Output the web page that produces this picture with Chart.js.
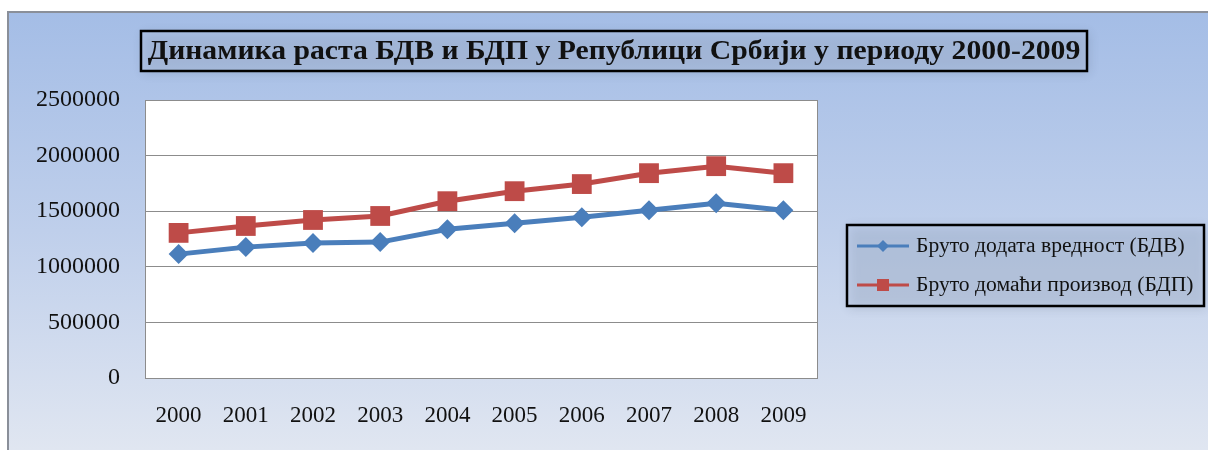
<!DOCTYPE html>
<html>
<head>
<meta charset="utf-8">
<script src="https://cdn.jsdelivr.net/npm/chart.js@4"></script>
<style>
  html, body { margin: 0; padding: 0; background: #fff; }
  #wrap { width: 1208px; height: 450px; }
</style>
</head>
<body>
<div id="wrap"><canvas id="chart" width="1208" height="450"></canvas></div>
<script>
// Data
const years = ['2000', '2001', '2002', '2003', '2004', '2005', '2006', '2007', '2008', '2009'];
const bdv = [1114000, 1177000, 1213000, 1222000, 1338000, 1392000, 1446000, 1509000, 1572000, 1509000];
const bdp = [1305000, 1367000, 1421000, 1457000, 1590000, 1680000, 1744000, 1842000, 1905000, 1842000];
const yMax = 2500000, yStep = 500000;
const titleText = 'Динамика раста БДВ и БДП у Републици Србији у периоду 2000-2009';
const labelBdv = 'Бруто додата вредност (БДВ)';
const labelBdp = 'Бруто домаћи производ (БДП)';

const serif = '"Liberation Serif", "Times New Roman", serif';

// background, plot area, title box, legend box
const frame = {
  id: 'frame',
  beforeDraw(chart) {
    const c = chart.ctx, a = chart.chartArea;
    c.save();
    c.fillStyle = '#fff';
    c.fillRect(0, 0, chart.width, chart.height);
    const g = c.createLinearGradient(0, 12, 0, 450);
    g.addColorStop(0, '#a4bde6');
    g.addColorStop(0.5, '#bfcfeb');
    g.addColorStop(1, '#e0e6f1');
    c.fillStyle = g;
    c.fillRect(8, 12, 1210, 450);
    c.strokeStyle = '#8a8f99';
    c.lineWidth = 2;
    c.strokeRect(8, 12, 1210, 450);
    // plot area
    c.fillStyle = '#fff';
    c.fillRect(a.left, a.top, a.right - a.left, a.bottom - a.top);
    c.strokeStyle = '#8c8c8c';
    c.lineWidth = 1;
    c.strokeRect(a.left + 0.5, a.top + 0.5, a.right - a.left, a.bottom - a.top);
    c.restore();
  },
  afterDraw(chart) {
    const c = chart.ctx;
    c.save();
    // title
    box(c, 141, 31, 946, 40);
    c.fillStyle = '#111';
    c.font = 'bold 27px ' + serif;
    c.textAlign = 'center';
    c.textBaseline = 'middle';
    c.save();
    c.translate(614, 52);
    c.scale(1.1, 1);
    c.fillText(titleText, 0, 0);
    c.restore();
    // legend
    box(c, 847, 225, 357, 81);
    c.font = '20px ' + serif;
    c.textAlign = 'left';
    chart.data.datasets.forEach((ds, i) => {
      const y = 246 + i * 39;
      c.strokeStyle = ds.borderColor;
      c.lineWidth = 3;
      c.beginPath(); c.moveTo(857, y); c.lineTo(909, y); c.stroke();
      c.fillStyle = ds.borderColor;
      c.beginPath();
      if (ds.pointStyle === 'rectRot') {
        c.moveTo(883, y - 6); c.lineTo(889, y); c.lineTo(883, y + 6); c.lineTo(877, y);
      } else {
        c.rect(877, y - 6, 12, 12);
      }
      c.fill();
      c.fillStyle = '#111';
      c.save();
      c.translate(916, y + 1);
      c.scale(1.08, 1);
      c.fillText(ds.label, 0, 0);
      c.restore();
    });
    c.restore();
  }
};

function box(c, x, y, w, h) {
  c.save();
  c.shadowColor = 'rgba(40,50,70,0.45)';
  c.shadowBlur = 10;
  c.shadowOffsetX = 2;
  c.shadowOffsetY = 2;
  c.fillStyle = 'rgba(185,202,232,0.35)';
  c.fillRect(x, y, w, h);
  c.restore();
  c.strokeStyle = '#000';
  c.lineWidth = 2.5;
  c.strokeRect(x, y, w, h);
}

new Chart(document.getElementById('chart'), {
  type: 'line',
  data: {
    labels: years,
    datasets: [
      {
        label: labelBdv, data: bdv,
        borderColor: '#4a7ebb', backgroundColor: '#4a7ebb',
        borderWidth: 5, pointStyle: 'rectRot', pointRadius: 10,
        pointBorderWidth: 0, tension: 0
      },
      {
        label: labelBdp, data: bdp,
        borderColor: '#be4b48', backgroundColor: '#be4b48',
        borderWidth: 5, pointStyle: 'rect', pointRadius: 14,
        pointBorderWidth: 0, tension: 0
      }
    ]
  },
  options: {
    responsive: false,
    animation: false,
    layout: { padding: { left: 0, top: 100, right: 391, bottom: 0 } },
    plugins: { legend: { display: false }, title: { display: false }, tooltip: { enabled: false } },
    scales: {
      x: {
        offset: true,
        grid: { display: false, drawTicks: false },
        border: { display: false },
        ticks: { color: '#111', font: { family: serif, size: 23 }, padding: 24, maxRotation: 0 },
        afterFit(s) { s.height = 72; }
      },
      y: {
        min: 0, max: yMax,
        grid: { color: '#8c8c8c', drawTicks: false },
        border: { display: false },
        ticks: { stepSize: yStep, color: '#111', font: { family: serif, size: 24 }, padding: 25,
                 callback: v => String(v) },
        afterFit(s) { s.width = 145; }
      }
    }
  },
  plugins: [frame]
});
</script>
</body>
</html>
